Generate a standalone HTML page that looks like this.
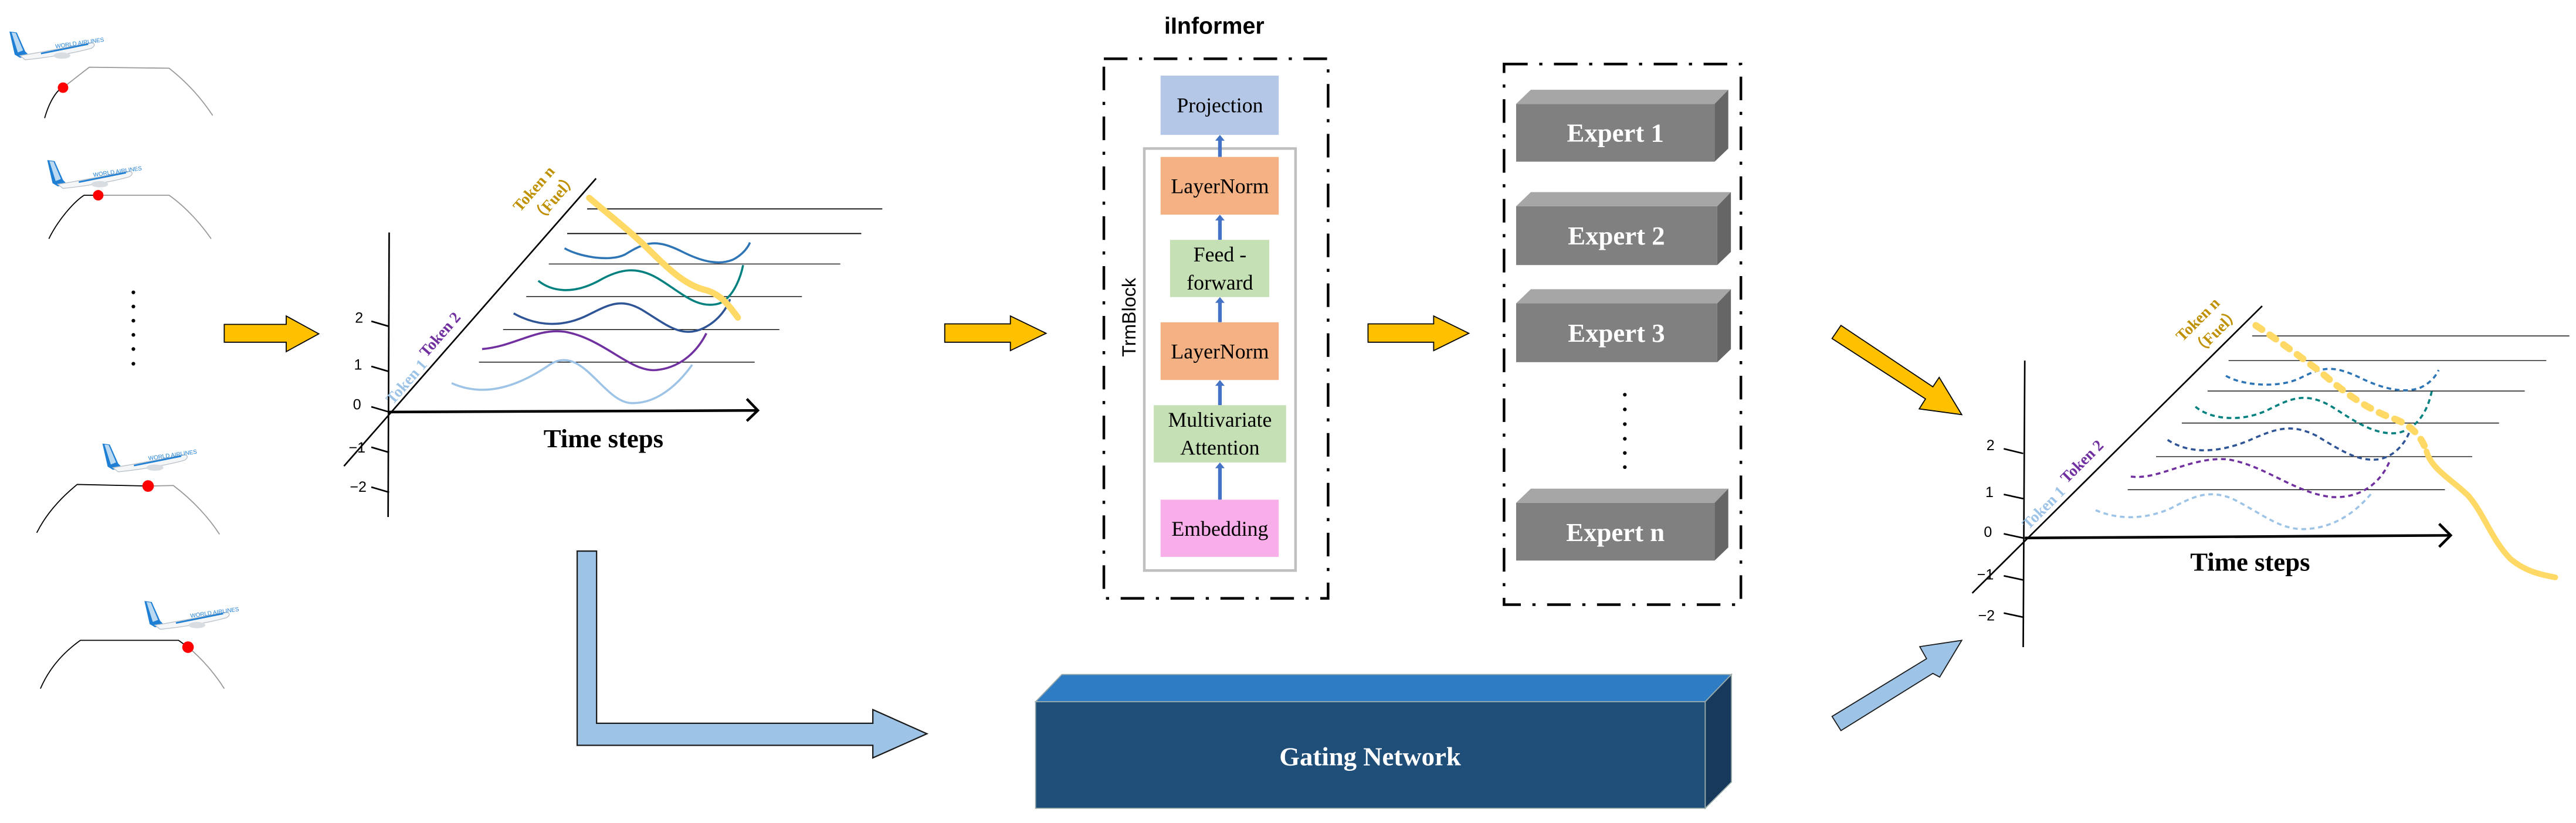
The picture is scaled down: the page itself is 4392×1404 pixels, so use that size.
<!DOCTYPE html>
<html><head><meta charset="utf-8"><style>
html,body{margin:0;padding:0;background:#fff;}
svg{display:block;}
.sf{font-family:"Liberation Serif",serif;}
.ss{font-family:"Liberation Sans",sans-serif;}
</style></head><body>
<svg width="4392" height="1404" viewBox="0 0 4392 1404" xmlns="http://www.w3.org/2000/svg">
<defs>
<g id="plane">
  <polygon points="0,0 14,2 30,38 40,48 20,50 10,44" fill="#1e7fd4"/>
  <polygon points="4,2 12,3 26,36 16,40" fill="#fff" opacity="0.7"/>
  <path d="M20,46 C60,40 110,30 150,22 C162,20 166,26 156,32 C120,42 70,50 30,54 Z" fill="#f4f6f8" stroke="#b8c0c8" stroke-width="1.5"/>
  <path d="M60,42 C90,36 120,30 150,24" stroke="#1e7fd4" stroke-width="3" fill="none"/>
  <ellipse cx="100" cy="46" rx="16" ry="6" fill="#d8dde2"/>
  <text x="88" y="32" font-size="11" fill="#1e7fd4" class="ss" transform="rotate(-8 88 32)">WORLD AIRLINES</text>
</g>
</defs>

<!-- REGION 1 -->
<g transform="scale(0.8954)">
  <!-- flight profiles -->
  <use href="#plane" x="18" y="60"/>
  <path d="M85,225 C95,190 110,170 120,167" stroke="#000" stroke-width="2" fill="none"/>
  <path d="M120,167 L170,128 L322,130 C360,160 385,190 405,220" stroke="#999" stroke-width="2" fill="none"/>
  <circle cx="120" cy="167" r="10" fill="#f00"/>

  <use href="#plane" x="90" y="305"/>
  <path d="M93,455 C110,420 140,385 160,372 L187,372" stroke="#000" stroke-width="2" fill="none"/>
  <path d="M187,372 L322,372 C355,395 385,430 402,455" stroke="#999" stroke-width="2" fill="none"/>
  <circle cx="187" cy="372" r="10" fill="#f00"/>

  <g fill="#000"><circle cx="254" cy="557" r="3.5"/><circle cx="254" cy="584" r="3.5"/><circle cx="254" cy="611" r="3.5"/><circle cx="254" cy="638" r="3.5"/><circle cx="254" cy="665" r="3.5"/><circle cx="254" cy="693" r="3.5"/></g>

  <use href="#plane" x="195" y="845"/>
  <path d="M70,1015 C90,975 120,945 147,923 L282,926" stroke="#000" stroke-width="2" fill="none"/>
  <path d="M282,926 L330,925 C370,955 400,990 418,1018" stroke="#999" stroke-width="2" fill="none"/>
  <circle cx="282" cy="926" r="11" fill="#f00"/>

  <use href="#plane" x="275" y="1145"/>
  <path d="M77,1312 C95,1270 125,1240 153,1220 L340,1220 L358,1233" stroke="#000" stroke-width="2" fill="none"/>
  <path d="M358,1233 C385,1255 410,1285 427,1312" stroke="#999" stroke-width="2" fill="none"/>
  <circle cx="358" cy="1233" r="11" fill="#f00"/>

  <!-- yellow arrow 1 -->
  <polygon points="427,618 545,618 545,602 607,636 545,670 545,652 427,652" fill="#ffc000" stroke="#000" stroke-width="2"/>

  <!-- chart 1 -->
  <g stroke="#000" fill="none">
    <line x1="1118" y1="398" x2="1680" y2="398" stroke-width="2"/>
    <line x1="1080" y1="445" x2="1640" y2="445" stroke-width="2"/>
    <line x1="1045" y1="503" x2="1600" y2="503" stroke-width="1.5"/>
    <line x1="1002" y1="565" x2="1527" y2="565" stroke-width="1.5"/>
    <line x1="958" y1="628" x2="1484" y2="628" stroke-width="1.5"/>
    <line x1="912" y1="690" x2="1437" y2="690" stroke-width="1.5"/>
    <line x1="741" y1="443" x2="739" y2="985" stroke-width="3"/>
    <line x1="741" y1="785" x2="1443" y2="782" stroke-width="5"/>
    <polyline points="1422,760 1443,782 1422,802" stroke-width="5"/>
    <line x1="655" y1="888" x2="1135" y2="340" stroke-width="3"/>
    <line x1="707" y1="612" x2="741" y2="622" stroke-width="3"/>
    <line x1="707" y1="698" x2="741" y2="708" stroke-width="3"/>
    <line x1="707" y1="775" x2="741" y2="785" stroke-width="3"/>
    <line x1="707" y1="852" x2="741" y2="862" stroke-width="3"/>
    <line x1="707" y1="928" x2="741" y2="938" stroke-width="3"/>
  </g>
  <g class="ss" font-size="28" fill="#000">
    <text x="676" y="615">2</text><text x="674" y="704">1</text><text x="672" y="780">0</text><text x="664" y="862">−1</text><text x="666" y="937">−2</text>
  </g>
  <g fill="none" stroke-width="4">
    <path d="M860,730 C900,748 960,755 1048,694 C1110,655 1150,770 1205,768 C1260,768 1300,720 1318,695" stroke="#9dc3e6"/>
    <path d="M918,665 C980,660 1020,625 1075,632 C1150,645 1200,710 1250,705 C1300,700 1330,665 1345,635" stroke="#7030a0"/>
    <path d="M978,597 C1010,615 1060,630 1120,600 C1160,580 1185,565 1230,595 C1270,620 1300,645 1340,625 C1370,610 1385,585 1390,570" stroke="#2f5597"/>
    <path d="M1025,535 C1050,555 1090,562 1140,535 C1180,512 1215,505 1260,535 C1300,560 1330,590 1370,578 C1400,565 1412,520 1415,505" stroke="#00807f"/>
    <path d="M1075,473 C1100,488 1160,500 1190,485 C1230,460 1250,455 1300,480 C1340,500 1370,505 1395,495 C1415,485 1425,470 1428,462" stroke="#2e75b6"/>
    <path d="M1122,377 C1160,410 1200,440 1240,480 C1280,520 1310,545 1345,553 C1375,562 1390,585 1405,605" stroke="#ffd966" stroke-width="12" stroke-linecap="round"/>
  </g>
  <text x="1035" y="852" class="sf" font-size="50" font-weight="bold">Time steps</text>
  <g class="sf" font-weight="bold" font-size="30">
    <text transform="translate(748,772) rotate(-49)" fill="#9dc3e6">Token 1</text>
    <text transform="translate(812,682) rotate(-49)" fill="#7030a0">Token 2</text>
    <text transform="translate(990,405) rotate(-49)" fill="#bf9000">Token n</text>
    <text transform="translate(1025,428) rotate(-49)" fill="#bf9000">（Fuel）</text>
  </g>

  <!-- light blue L arrow -->
  <polygon points="1099,1050 1136,1050 1136,1378 1662,1378 1662,1352 1765,1398 1662,1444 1662,1420 1099,1420" fill="#9dc3e6" stroke="#1a1a1a" stroke-width="2.5"/>
</g>

<!-- REGION 2 -->
<g transform="translate(1600,0) scale(0.8954)">
  <text x="430" y="64" class="ss" font-size="44" font-weight="bold">iInformer</text>
  <rect x="315" y="112" width="427" height="1028" fill="none" stroke="#000" stroke-width="5" stroke-dasharray="45 22 6 22"/>
  <rect x="392" y="283" width="288" height="804" fill="none" stroke="#bfbfbf" stroke-width="5"/>
  <text transform="translate(375,680) rotate(-90)" class="ss" font-size="36">TrmBlock</text>
  <g stroke="#4472c4" stroke-width="7">
    <line x1="536" y1="299" x2="536" y2="266"/><line x1="536" y1="457" x2="536" y2="418"/>
    <line x1="536" y1="614" x2="536" y2="575"/><line x1="536" y1="772" x2="536" y2="733"/>
    <line x1="536" y1="952" x2="536" y2="890"/>
  </g>
  <g fill="#4472c4">
    <polygon points="527,268 536,257 545,268"/><polygon points="527,420 536,409 545,420"/>
    <polygon points="527,577 536,566 545,577"/><polygon points="527,735 536,724 545,735"/>
    <polygon points="527,892 536,881 545,892"/>
  </g>
  <rect x="423" y="144" width="225" height="113" fill="#b4c7e7"/>
  <rect x="423" y="299" width="225" height="110" fill="#f4b183"/>
  <rect x="441" y="457" width="189" height="109" fill="#c5e0b4"/>
  <rect x="423" y="614" width="225" height="110" fill="#f4b183"/>
  <rect x="410" y="772" width="252" height="109" fill="#c5e0b4"/>
  <rect x="423" y="952" width="225" height="109" fill="#f8aee8"/>
  <g class="sf" font-size="40" text-anchor="middle" fill="#000">
    <text x="536" y="214">Projection</text>
    <text x="536" y="368">LayerNorm</text>
    <text x="536" y="498">Feed -</text><text x="536" y="552">forward</text>
    <text x="536" y="683">LayerNorm</text>
    <text x="536" y="813">Multivariate</text><text x="536" y="866">Attention</text>
    <text x="536" y="1021">Embedding</text>
  </g>
  <!-- yellow arrows -->
  <polygon points="12,617 137,617 137,602 205,635 137,668 137,652 12,652" fill="#ffc000" stroke="#000" stroke-width="2"/>
  <polygon points="818,617 943,617 943,602 1010,635 943,668 943,652 818,652" fill="#ffc000" stroke="#000" stroke-width="2"/>
  <!-- experts box -->
  <rect x="1077" y="122" width="451" height="1030" fill="none" stroke="#000" stroke-width="5" stroke-dasharray="45 22 6 22"/>
  <g>
    <polygon points="1100,198 1128,171 1504,171 1478,198" fill="#a6a6a6"/>
    <polygon points="1478,198 1504,171 1504,283 1478,308" fill="#666"/>
    <rect x="1100" y="198" width="378" height="110" fill="#808080"/>
    <polygon points="1100,393 1128,366 1509,366 1483,393" fill="#a6a6a6"/>
    <polygon points="1483,393 1509,366 1509,480 1483,505" fill="#666"/>
    <rect x="1100" y="393" width="383" height="112" fill="#808080"/>
    <polygon points="1100,578 1128,551 1509,551 1483,578" fill="#a6a6a6"/>
    <polygon points="1483,578 1509,551 1509,665 1483,690" fill="#666"/>
    <rect x="1100" y="578" width="383" height="112" fill="#808080"/>
    <polygon points="1100,958 1128,931 1504,931 1478,958" fill="#a6a6a6"/>
    <polygon points="1478,958 1504,931 1504,1043 1478,1068" fill="#666"/>
    <rect x="1100" y="958" width="378" height="110" fill="#808080"/>
  </g>
  <g class="sf" font-size="50" font-weight="bold" fill="#fff" text-anchor="middle">
    <text x="1289" y="270">Expert 1</text><text x="1291" y="466">Expert 2</text>
    <text x="1291" y="651">Expert 3</text><text x="1289" y="1031">Expert n</text>
  </g>
  <g fill="#000"><circle cx="1307" cy="752" r="3.5"/><circle cx="1307" cy="780" r="3.5"/><circle cx="1307" cy="808" r="3.5"/><circle cx="1307" cy="836" r="3.5"/><circle cx="1307" cy="863" r="3.5"/><circle cx="1307" cy="890" r="3.5"/></g>
  <!-- gating -->
  <polygon points="185,1337 235,1285 1510,1285 1460,1337" fill="#2e7dc4" stroke="#9aa" stroke-width="2"/>
  <polygon points="1460,1337 1510,1285 1510,1490 1460,1540" fill="#173a5c" stroke="#9aa" stroke-width="2"/>
  <rect x="185" y="1337" width="1275" height="203" fill="#1f4e79" stroke="#9aa" stroke-width="2"/>
  <text x="822" y="1458" class="sf" font-size="50" font-weight="bold" fill="#fff" text-anchor="middle">Gating Network</text>
</g>

<!-- REGION 3 -->
<g transform="translate(3000,0) scale(0.8954)">
  <polygon points="155,620 330,737 342,719 385,790 304,779 316,760 138,645" fill="#ffc000" stroke="#000" stroke-width="2"/>
  <polygon points="155,1392 330,1283 343,1290 385,1220 305,1232 318,1255 138,1365" fill="#9dc3e6" stroke="#1a1a1a" stroke-width="2"/>
  <g stroke="#000" fill="none">
    <line x1="938" y1="640" x2="1542" y2="640" stroke-width="1.5"/>
    <line x1="893" y1="687" x2="1498" y2="687" stroke-width="1.5"/>
    <line x1="853" y1="745" x2="1457" y2="745" stroke-width="1.5"/>
    <line x1="804" y1="806" x2="1408" y2="806" stroke-width="1.5"/>
    <line x1="755" y1="870" x2="1357" y2="870" stroke-width="1.5"/>
    <line x1="701" y1="933" x2="1305" y2="933" stroke-width="1.5"/>
    <line x1="505" y1="687" x2="502" y2="1233" stroke-width="3"/>
    <line x1="505" y1="1025" x2="1316" y2="1020" stroke-width="5"/>
    <polyline points="1294,998 1316,1020 1294,1042" stroke-width="5"/>
    <line x1="405" y1="1130" x2="957" y2="583" stroke-width="3"/>
    <line x1="465" y1="855" x2="502" y2="864"/>
    <line x1="465" y1="942" x2="502" y2="950" stroke-width="3"/>
    <line x1="465" y1="1017" x2="502" y2="1025" stroke-width="3"/>
    <line x1="465" y1="1097" x2="502" y2="1105" stroke-width="3"/>
    <line x1="465" y1="1168" x2="502" y2="1176" stroke-width="3"/>
    <line x1="465" y1="855" x2="502" y2="864" stroke-width="3"/>
  </g>
  <g class="ss" font-size="28" fill="#000">
    <text x="432" y="858">2</text><text x="430" y="947">1</text><text x="427" y="1023">0</text><text x="414" y="1104">−1</text><text x="416" y="1182">−2</text>
  </g>
  <g fill="none" stroke-width="4" stroke-dasharray="9 7">
    <path d="M640,972 C670,985 720,995 780,970 C820,950 850,930 900,950 C960,980 990,1010 1040,1008 C1100,1005 1140,970 1165,940" stroke="#9dc3e6"/>
    <path d="M707,908 C760,915 820,870 890,875 C960,885 1020,940 1090,947 C1150,950 1185,915 1200,878" stroke="#7030a0"/>
    <path d="M777,838 C810,860 860,868 930,840 C980,818 1010,805 1060,830 C1110,860 1140,880 1180,875 C1215,868 1235,835 1240,815" stroke="#2f5597"/>
    <path d="M830,775 C860,800 920,805 970,780 C1010,760 1040,745 1090,775 C1130,800 1170,830 1215,825 C1260,815 1275,770 1280,745" stroke="#00807f"/>
    <path d="M888,716 C920,735 990,740 1030,720 C1070,700 1090,695 1140,718 C1180,738 1220,750 1255,740 C1280,730 1290,712 1293,705" stroke="#2e75b6"/>
    <path d="M945,620 C990,650 1030,680 1070,710 C1110,745 1150,775 1200,795 C1240,808 1260,830 1270,860" stroke="#ffd966" stroke-width="13" stroke-dasharray="14 18" stroke-linecap="round"/>
  </g>
  <path d="M1270,860 C1280,895 1320,915 1350,945 C1380,980 1395,1030 1430,1065 C1460,1090 1490,1095 1515,1100" fill="none" stroke="#ffd966" stroke-width="11" stroke-linecap="round"/>
  <text x="820" y="1087" class="sf" font-size="50" font-weight="bold">Time steps</text>
  <g class="sf" font-weight="bold" font-size="30">
    <text transform="translate(512,1010) rotate(-45)" fill="#9dc3e6">Token 1</text>
    <text transform="translate(585,922) rotate(-45)" fill="#7030a0">Token 2</text>
    <text transform="translate(805,652) rotate(-45)" fill="#bf9000">Token n</text>
    <text transform="translate(835,680) rotate(-45)" fill="#bf9000">（Fuel）</text>
  </g>
</g>
</svg>
</body></html>
